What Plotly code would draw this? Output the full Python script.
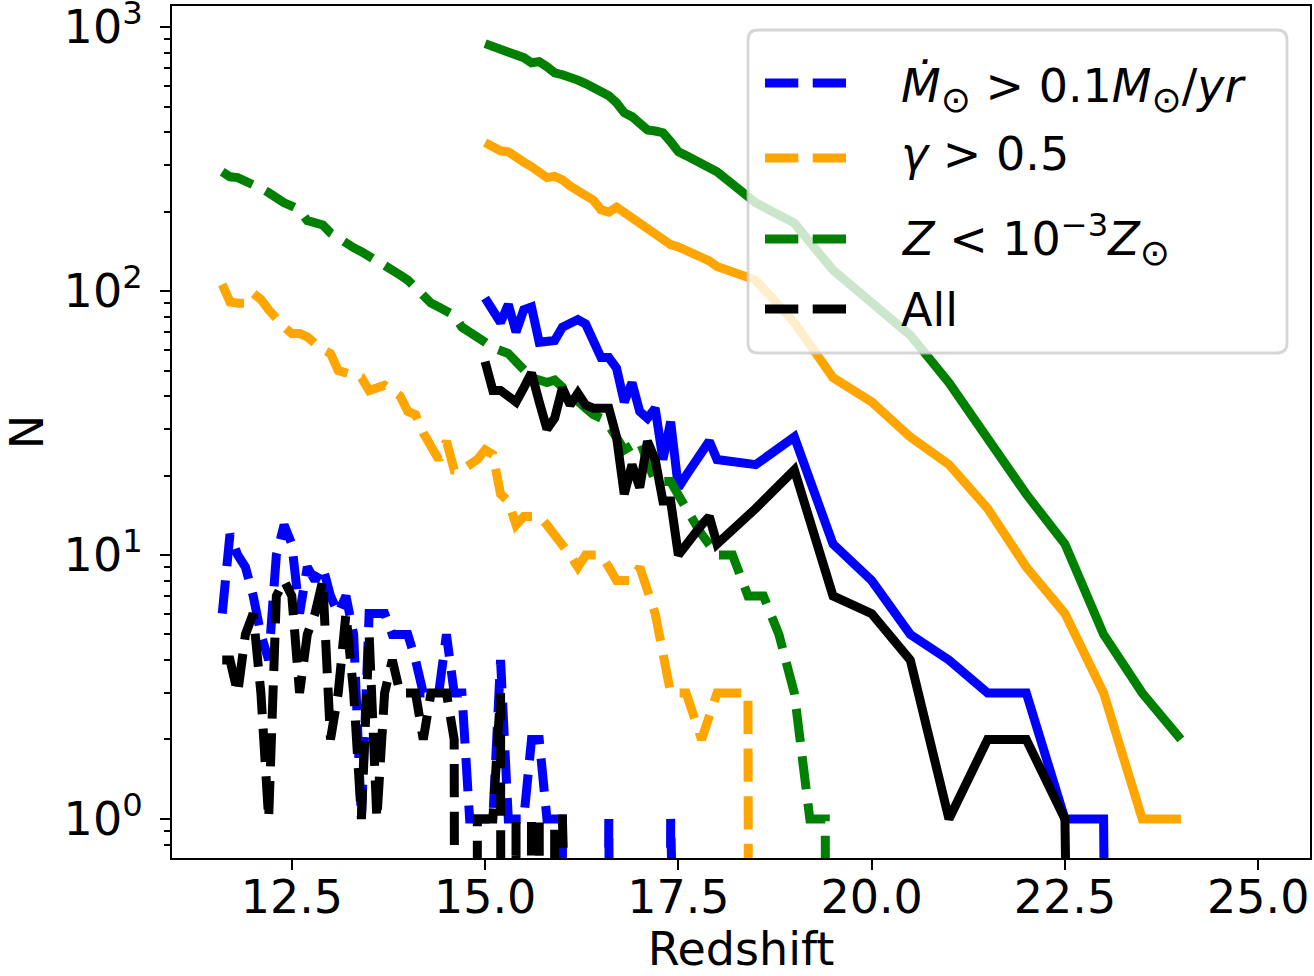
import plotly.graph_objects as go

# ---------------- data ----------------
# redshift grid of the dashed series
z_dashed = [11.6, 11.7, 11.8, 11.9, 12.0, 12.1, 12.2, 12.3, 12.4, 12.5,
            12.6, 12.7, 12.8, 12.9, 13.0, 13.1, 13.2, 13.3, 13.4, 13.5,
            13.6, 13.7, 13.8, 13.9, 14.0, 14.1, 14.2, 14.3, 14.4, 14.5,
            14.6, 14.7, 14.8, 14.9, 15.0, 15.1, 15.2, 15.3, 15.4, 15.5,
            15.6, 15.7, 15.8, 15.9, 16.0, 16.1, 16.2, 16.3, 16.4, 16.5,
            16.6, 16.7, 16.8, 16.9, 17.0,
            17.2, 17.4, 17.6, 17.8, 18.0, 18.2, 18.4, 18.6, 18.8, 19.0, 19.2, 19.4, 19.6]

blue_dashed = [6, 12, 10, 9, 7, 5, 4, 10, 13, 11,
               6, 9, 8, 9, 7, 6, 7, 5, 1, 6,
               6, 6, 5, 5, 5, 4, 3, 3, 3, 5,
               3, 3, 1, 1, 1, 1, 4, 1, 1, 1,
               2, 2, 1, 1, 1, 0, 0, 0, 0, 0,
               1, 0, 0, 0, 0,
               0, 1, 0, 0, 0, 0, 0, 0, 0, 0, 0, 0, 0]

orange_dashed = [106, 91, 90, 90, 98, 93, 85, 78, 73, 69,
                 69, 67, 63, 60, 58, 50, 49, 48, 47, 42,
                 43, 44, 42, 40, 35, 34, 29, 26, 23, 27,
                 21, 21, 22, 23, 25, 24, 17, 16, 13, 14,
                 14, 14, 13, 12, 11, 10, 9, 10, 10, 10,
                 9, 8, 8, 8, 9,
                 6, 3, 3, 2, 3, 3, 3, 0, 0, 0, 0, 0, 0]

green_dashed = [283, 271, 269, 262, 255, 245, 236, 225, 216, 210,
                203, 185, 183, 178, 166, 158, 150, 146, 141, 134,
                130, 125, 121, 115, 110, 103, 95, 90, 87, 84,
                81, 73, 70, 68, 64, 61, 60, 58, 54, 50,
                47, 46, 45, 46, 43, 41, 38, 36, 34, 33,
                31, 28, 25, 26, 27,
                19, 19, 15, 12, 10, 10, 7, 7, 5, 3, 1, 1, 0]

black_dashed = [4, 4, 3, 5, 6, 3, 1, 7, 8, 7,
                3, 5, 6, 8, 2, 3, 6, 3, 1, 5,
                1, 3, 4, 3, 3, 3, 2, 3, 3, 3,
                2, 0, 0, 1, 1, 1, 3, 0, 1, 0,
                1, 1, 0, 1, 1, 0, 0, 0, 0, 0,
                0, 0, 0, 0, 0,
                0, 0, 0, 0, 0, 0, 0, 0, 0, 0, 0, 0, 0]

# redshift grid of the solid series
z_solid = [15.0, 15.1, 15.2, 15.3, 15.4, 15.5, 15.6, 15.7, 15.8, 15.9,
           16.0, 16.1, 16.2, 16.3, 16.4, 16.5, 16.6, 16.7, 16.8, 16.9,
           17.0, 17.1, 17.2, 17.3, 17.4, 17.5, 17.6, 17.7, 17.8, 17.9,
           18.0, 18.5, 19.0, 19.5, 20.0, 20.5, 21.0, 21.5, 22.0, 22.5,
           23.0, 23.5, 24.0]

blue_solid = [94, 85, 76, 89, 70, 85, 87, 64, 65, 65,
              73, 75, 78, 75, 66, 56, 56, 51, 38, 45,
              35, 33, 36, 23, 32, 18, 20, 22, 24, 27,
              23, 22, 28, 11, 8, 5, 4, 3, 3, 1,
              1, 0, 0]

orange_solid = [365, 350, 340, 337, 320, 308, 296, 282, 269, 272,
                264, 250, 238, 227, 221, 203, 199, 208, 198, 191,
                182, 172, 163, 156, 150, 147, 143, 139, 135, 130,
                124, 110, 76, 47, 38, 28, 22, 15, 9, 6,
                3, 1, 1]

green_solid = [866, 843, 822, 807, 793, 766, 733, 740, 708, 671,
               660, 638, 630, 611, 590, 570, 550, 517, 474, 458,
               427, 408, 404, 398, 368, 337, 326, 315, 301, 293,
               283, 216, 181, 120, 91, 68, 45, 28, 17, 11,
               5, 3, 2]

black_solid = [54, 42, 42, 40, 38, 43, 49, 38, 30, 33,
               43, 37, 41, 37, 36, 36, 36, 28, 17, 22,
               18, 27, 23, 16, 16, 10, 11, 12, 13, 14,
               11, 15, 21, 7, 6, 4, 1, 2, 2, 1,
               0, 0, 0]

ODOT = '<sub><span style="font-size:36px">⊙</span></sub>'
labels = [f"<i>Ṁ</i>{ODOT} &gt; 0.1<i>M</i>{ODOT}/<i>yr</i>",
          "<i>γ</i> &gt; 0.5",
          f"<i>Z</i> &lt; 10<sup>−3</sup><i>Z</i>{ODOT}",
          "All"]
colors = ["blue", "orange", "green", "black"]

y_tickvals = [1, 10, 100, 1000]
y_ticktext = ["10<sup>0</sup>", "10<sup>1</sup>", "10<sup>2</sup>", "10<sup>3</sup>"]
y_minor = [0.8, 0.9] + [m * d for d in (1, 10, 100) for m in range(2, 10)]

# ---------------- figure ----------------
W, H = 1314, 976
PL, PR, PT, PB = 172, 1310, 6, 858   # plot area in pixels
FONT = "DejaVu Sans"
FS = 46
LW = 9
DASH = "33.3px,14.4px"
CLIP = 1e-30   # non-positive counts are clipped on the log axis (vertical drops)


def for_log(vals):
    return [v if v > 0 else CLIP for v in vals]


fig = go.Figure()
dashed_sets = [blue_dashed, orange_dashed, green_dashed, black_dashed]
solid_sets = [blue_solid, orange_solid, green_solid, black_solid]
for lab, col, yd, ys in zip(labels, colors, dashed_sets, solid_sets):
    fig.add_trace(go.Scatter(x=z_dashed, y=for_log(yd), mode="lines", name=lab,
                             line=dict(color=col, width=LW, dash=DASH),
                             showlegend=False))
    fig.add_trace(go.Scatter(x=z_solid, y=for_log(ys), mode="lines", name=lab,
                             line=dict(color=col, width=LW),
                             showlegend=False))


def X(px):
    return (px - PL) / (PR - PL)


def Y(py):
    return (PB - py) / (PB - PT)


# legend (drawn like matplotlib's: semi-transparent framed box)
L, R, T, B, r = 748, 1287, 30, 353, 10
box = (f"M {X(L + r)},{Y(T)} L {X(R - r)},{Y(T)} Q {X(R)},{Y(T)} {X(R)},{Y(T + r)} "
       f"L {X(R)},{Y(B - r)} Q {X(R)},{Y(B)} {X(R - r)},{Y(B)} "
       f"L {X(L + r)},{Y(B)} Q {X(L)},{Y(B)} {X(L)},{Y(B - r)} "
       f"L {X(L)},{Y(T + r)} Q {X(L)},{Y(T)} {X(L + r)},{Y(T)} Z")
shapes = [dict(type="path", path=box, xref="paper", yref="paper", layer="above",
               fillcolor="rgba(255,255,255,0.8)",
               line=dict(color="rgba(204,204,204,0.8)", width=2.8))]
rows = [83, 158, 239, 309]
text_rows = [89, 154, 239, 310]
annotations = []
for lab, col, ry, ty in zip(labels, colors, rows, text_rows):
    shapes.append(dict(type="line", xref="paper", yref="paper", layer="above",
                       x0=X(765), x1=X(857), y0=Y(ry), y1=Y(ry),
                       line=dict(color=col, width=LW, dash=DASH)))
    annotations.append(dict(text=lab, x=X(899), y=Y(ty), xref="paper", yref="paper",
                            xanchor="left", yanchor="middle", showarrow=False,
                            font=dict(family=FONT, size=FS, color="black")))

fig.update_layout(
    width=W, height=H,
    margin=dict(l=PL, r=W - PR, t=PT, b=H - PB, pad=0),
    paper_bgcolor="white", plot_bgcolor="white",
    font=dict(family=FONT, size=FS, color="black"),
    showlegend=False,
    shapes=shapes, annotations=annotations,
)
fig.update_xaxes(
    range=[10.95, 25.67], tickmode="linear", tick0=0, dtick=2.5, tickformat=".1f",
    ticks="outside", ticklen=10, tickwidth=2.3, tickcolor="black",
    showline=True, linewidth=2.3, linecolor="black", mirror=True,
    showgrid=False, zeroline=False, ticklabelstandoff=-12,
    tickfont=dict(family=FONT, size=FS),
    title=dict(text="Redshift", font=dict(family=FONT, size=FS), standoff=18),
    automargin=False,
)
fig.update_yaxes(
    type="log", range=[-0.148, 3.08],
    tickmode="array", tickvals=y_tickvals, ticktext=y_ticktext,
    ticks="outside", ticklen=10, tickwidth=2.3, tickcolor="black",
    minor=dict(tickmode="array", tickvals=y_minor, ticks="outside",
               ticklen=6, tickwidth=1.7, tickcolor="black", showgrid=False),
    showline=True, linewidth=2.3, linecolor="black", mirror=True,
    showgrid=False, zeroline=False, ticklabelstandoff=8, ticklabeloverflow="allow",
    tickfont=dict(family=FONT, size=FS),
    title=dict(text="N", font=dict(family=FONT, size=FS), standoff=14),
    automargin=False,
)

fig.write_html("out.html")
